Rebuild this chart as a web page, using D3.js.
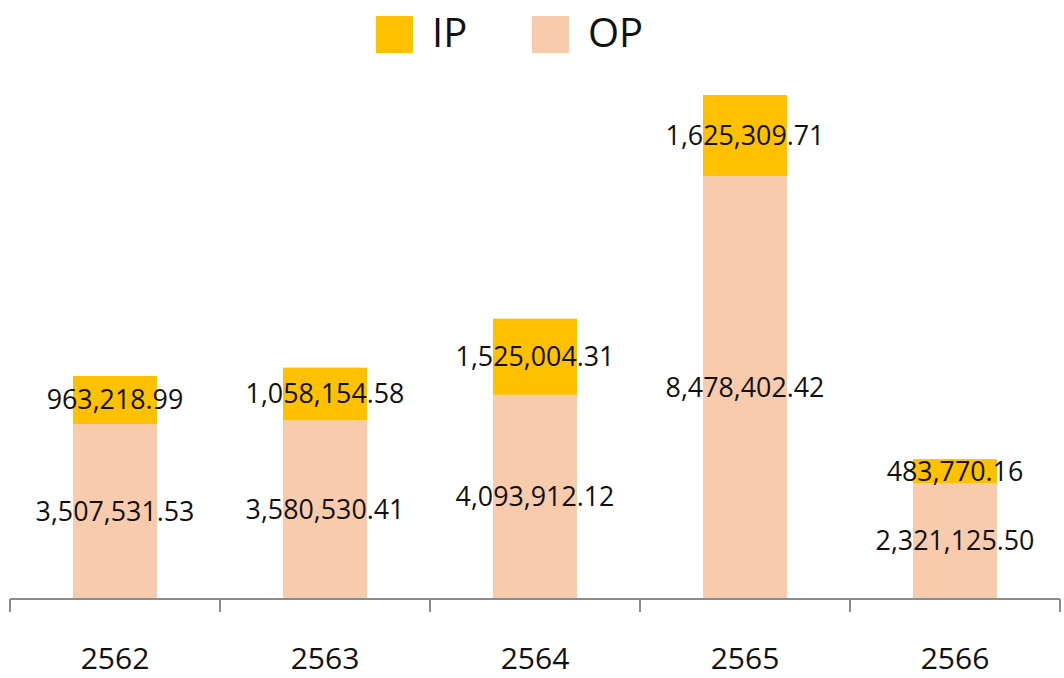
<!DOCTYPE html>
<html><head><meta charset="utf-8">
<script src="https://cdn.jsdelivr.net/npm/d3@7"></script>
<style>html,body{margin:0;padding:0;background:#fff}</style>
</head><body>
<svg id="c" width="1064" height="678"></svg>
<script>
const categories = ["2562", "2563", "2564", "2565", "2566"];
const opValues = [3507531.53, 3580530.41, 4093912.12, 8478402.42, 2321125.50];
const ipValues = [963218.99, 1058154.58, 1525004.31, 1625309.71, 483770.16];
const seriesNames = ["IP", "OP"];
const seriesColors = {IP: "#FFC000", OP: "#F8CBAD"};

const svg = d3.select("#c");
const font = "'Open Sans', 'Noto Sans', sans-serif";
const x = d3.scaleBand().domain(categories).range([10, 1060]).paddingInner(0.6).paddingOuter(0.3);
const y = d3.scaleLinear().domain([0, 12000000]).range([599, 0.4]);

const data = categories.map((c, i) => ({cat: c, OP: opValues[i], IP: ipValues[i]}));
const stack = d3.stack().keys(["OP", "IP"])(data);

const fmt = d3.format(",.2f");

stack.forEach(layer => {
  const key = layer.key;
  svg.append("g").selectAll("rect").data(layer).join("rect")
    .attr("x", d => x(d.data.cat))
    .attr("width", x.bandwidth())
    .attr("y", d => y(d[1]))
    .attr("height", d => y(d[0]) - y(d[1]))
    .attr("fill", seriesColors[key]);
});

stack.forEach(layer => {
  const key = layer.key;
  svg.append("g").selectAll("text").data(layer).join("text")
    .attr("x", d => x(d.data.cat) + x.bandwidth() / 2)
    .attr("y", d => (y(d[0]) + y(d[1])) / 2)
    .attr("dy", "0.35em")
    .attr("text-anchor", "middle")
    .attr("font-family", font)
    .attr("font-size", 26.8)
    .attr("fill", "#111")
    .text(d => fmt(d.data[key]));
});

// axis
const axisG = svg.append("g");
axisG.append("line").attr("x1", 10).attr("x2", 1060).attr("y1", 599).attr("y2", 599)
  .attr("stroke", "#8c8c8c").attr("stroke-width", 2);
const step = x.step();
const tickXs = d3.range(categories.length + 1).map(i => 10 + i * step);
axisG.selectAll("line.t").data(tickXs).join("line").attr("class", "t")
  .attr("x1", d => d).attr("x2", d => d).attr("y1", 599).attr("y2", 612)
  .attr("stroke", "#8c8c8c").attr("stroke-width", 2);
axisG.selectAll("text").data(categories).join("text")
  .attr("x", d => x(d) + x.bandwidth() / 2)
  .attr("y", 658).attr("dy", "0.35em")
  .attr("text-anchor", "middle")
  .attr("font-family", font).attr("font-size", 30)
  .attr("fill", "#111")
  .text(d => d);

// legend
const legendX = {IP: 376, OP: 532};
const lg = svg.append("g").selectAll("g").data(seriesNames).join("g")
  .attr("transform", d => `translate(${legendX[d]},16)`);
lg.append("rect").attr("width", 37).attr("height", 37).attr("fill", d => seriesColors[d]);
lg.append("text").attr("x", 56).attr("y", 16.5).attr("dy", "0.36em")
  .attr("font-family", font).attr("font-size", 40).attr("fill", "#111")
  .text(d => d);
</script>
</body></html>
